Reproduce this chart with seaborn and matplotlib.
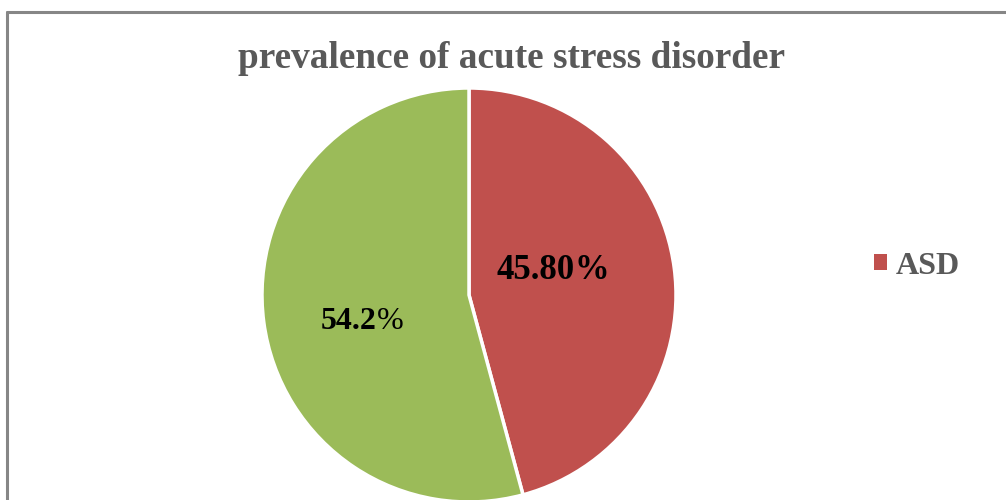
import matplotlib
matplotlib.use("Agg")
import matplotlib.pyplot as plt
import seaborn as sns
from matplotlib.lines import Line2D
from matplotlib.patches import Patch

# Data
categories = ["ASD", "No ASD"]
shares = [45.8, 54.2]
value_labels = ["45.80", "54.2"]
legend_items = ["ASD"]

sns.set_theme(style="white")
plt.rcParams["font.family"] = ["Liberation Serif", "DejaVu Serif"]

colors = sns.color_palette(["#C0504D", "#9BBB59"])

fig = plt.figure(figsize=(10.06, 5.0), dpi=100)
fig.patch.set_facecolor("white")

# Chart frame (left and top edges)
frame_color = "#868686"
fig.add_artist(Line2D([7 / 1006, 7 / 1006], [0, 1 - 12 / 500], transform=fig.transFigure,
                      color=frame_color, lw=2.2))
fig.add_artist(Line2D([7 / 1006, 1], [1 - 12 / 500, 1 - 12 / 500], transform=fig.transFigure,
                      color=frame_color, lw=2.2))

# Pie axes: centre and radius in pixels
cx, cy, r = 469, 295, 207
W, H = 1006, 500
ax = fig.add_axes([(cx - r) / W, (H - cy - r) / H, 2 * r / W, 2 * r / H])
ax.pie(shares, colors=colors, startangle=90, counterclock=False,
       wedgeprops=dict(edgecolor="white", linewidth=2.5))
ax.set_xlim(-1, 1)
ax.set_ylim(-1, 1)
ax.set_aspect("equal")
ax.axis("off")

# Value labels: bold number followed by a percent sign
label_pos = [(0.32, 0.12), (-0.58, -0.13)]
pct_weight = ["bold", "normal"]
label_size = [25, 23]
for (x, y), txt, w, fs in zip(label_pos, value_labels, pct_weight, label_size):
    t = ax.text(x, y, txt, fontsize=fs, fontweight="bold", color="black",
                ha="center", va="center")
    ax.annotate("%", xy=(1, 0), xycoords=t, xytext=(0, 0), textcoords="offset points",
                fontsize=fs, fontweight=w, color="black", ha="left", va="bottom")

fig.text(511 / W, 1 - 59 / H, "prevalence of acute stress disorder", fontsize=26.8,
         fontweight="bold", color="#595959", ha="center", va="center")

handles = [Patch(facecolor=colors[0], edgecolor="none")]
fig.legend(handles, legend_items, loc="center left", bbox_to_anchor=(845 / W, 1 - 266 / H),
           frameon=False, handlelength=0.4, handleheight=0.4, handletextpad=0.3,
           prop=dict(family="Liberation Serif", weight="bold", size=23),
           labelcolor="#595959")

fig.savefig("out.png", dpi=100, facecolor="white")
